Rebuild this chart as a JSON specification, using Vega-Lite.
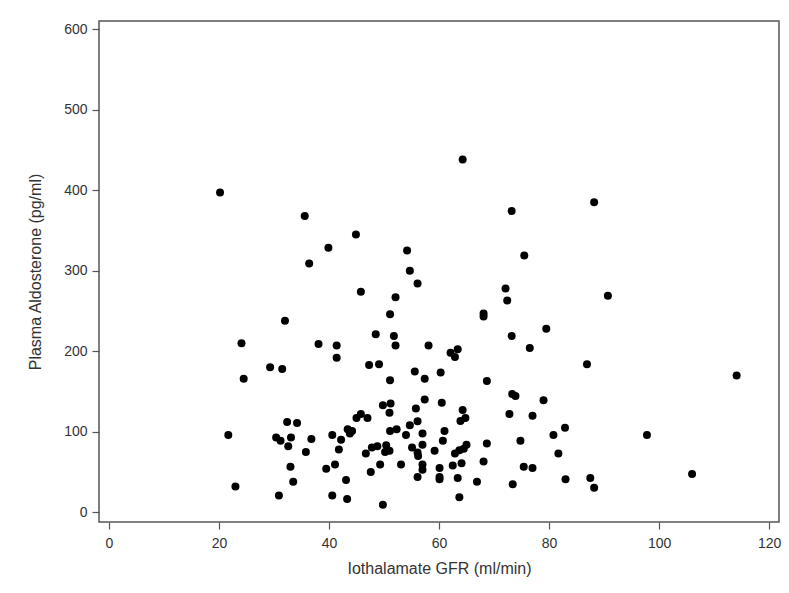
{
  "$schema": "https://vega.github.io/schema/vega-lite/v6.json",
  "width": 680,
  "height": 501,
  "autosize": {"type": "none"},
  "padding": {"left": 99, "top": 21, "right": 10, "bottom": 71},
  "background": "white",
  "config": {
    "view": {"stroke": "#555555", "strokeWidth": 1.5},
    "font": "Liberation Sans",
    "axis": {
      "domain": false,
      "grid": false,
      "tickColor": "#555555",
      "tickWidth": 1.2,
      "tickSize": 7,
      "labelFont": "Liberation Sans",
      "labelFontSize": 14,
      "labelColor": "#333333",
      "titleFont": "Liberation Sans",
      "titleFontSize": 16,
      "titleFontWeight": "normal",
      "titleColor": "#333333"
    }
  },
  "data": {
    "values": [
      {"gfr": 20.2, "aldo": 397}, {"gfr": 35.6, "aldo": 368}, {"gfr": 39.9, "aldo": 328.5}, {"gfr": 36.4, "aldo": 309},
      {"gfr": 32.0, "aldo": 238}, {"gfr": 24.1, "aldo": 210}, {"gfr": 38.1, "aldo": 209}, {"gfr": 41.4, "aldo": 207},
      {"gfr": 41.4, "aldo": 192}, {"gfr": 29.3, "aldo": 180}, {"gfr": 31.5, "aldo": 178}, {"gfr": 24.5, "aldo": 166},
      {"gfr": 32.4, "aldo": 112}, {"gfr": 34.2, "aldo": 111}, {"gfr": 21.7, "aldo": 96}, {"gfr": 30.4, "aldo": 93},
      {"gfr": 31.2, "aldo": 89}, {"gfr": 33.1, "aldo": 93}, {"gfr": 32.6, "aldo": 82}, {"gfr": 36.8, "aldo": 91},
      {"gfr": 35.8, "aldo": 75}, {"gfr": 40.6, "aldo": 96}, {"gfr": 42.2, "aldo": 90}, {"gfr": 41.8, "aldo": 78},
      {"gfr": 41.1, "aldo": 59.5}, {"gfr": 39.5, "aldo": 54}, {"gfr": 33.0, "aldo": 56.5}, {"gfr": 33.5, "aldo": 38},
      {"gfr": 23.0, "aldo": 32}, {"gfr": 30.9, "aldo": 21}, {"gfr": 40.6, "aldo": 21},
      {"gfr": 64.3, "aldo": 438}, {"gfr": 73.2, "aldo": 374}, {"gfr": 44.9, "aldo": 345}, {"gfr": 54.2, "aldo": 325},
      {"gfr": 75.5, "aldo": 319}, {"gfr": 54.7, "aldo": 300}, {"gfr": 56.1, "aldo": 284}, {"gfr": 45.8, "aldo": 274},
      {"gfr": 52.1, "aldo": 267}, {"gfr": 51.1, "aldo": 246}, {"gfr": 72.1, "aldo": 278}, {"gfr": 72.4, "aldo": 263},
      {"gfr": 68.1, "aldo": 247}, {"gfr": 68.1, "aldo": 243}, {"gfr": 79.5, "aldo": 228}, {"gfr": 48.5, "aldo": 221},
      {"gfr": 51.8, "aldo": 219}, {"gfr": 73.2, "aldo": 219},
      {"gfr": 52.1, "aldo": 207}, {"gfr": 58.1, "aldo": 207}, {"gfr": 62.1, "aldo": 198}, {"gfr": 63.4, "aldo": 202.5},
      {"gfr": 62.9, "aldo": 193}, {"gfr": 76.5, "aldo": 204}, {"gfr": 47.3, "aldo": 183}, {"gfr": 49.1, "aldo": 184},
      {"gfr": 55.6, "aldo": 175}, {"gfr": 60.3, "aldo": 173.5}, {"gfr": 51.1, "aldo": 164}, {"gfr": 57.4, "aldo": 166},
      {"gfr": 68.7, "aldo": 163}, {"gfr": 57.4, "aldo": 140}, {"gfr": 60.5, "aldo": 136}, {"gfr": 49.8, "aldo": 133},
      {"gfr": 51.2, "aldo": 135}, {"gfr": 51.0, "aldo": 123.5}, {"gfr": 55.8, "aldo": 129}, {"gfr": 56.1, "aldo": 113},
      {"gfr": 54.7, "aldo": 108}, {"gfr": 64.3, "aldo": 127}, {"gfr": 64.8, "aldo": 117}, {"gfr": 63.9, "aldo": 113.5},
      {"gfr": 73.3, "aldo": 147}, {"gfr": 73.9, "aldo": 144.5}, {"gfr": 79.0, "aldo": 139}, {"gfr": 72.8, "aldo": 122},
      {"gfr": 77.0, "aldo": 120}, {"gfr": 45.0, "aldo": 117}, {"gfr": 45.8, "aldo": 122}, {"gfr": 47.0, "aldo": 117},
      {"gfr": 43.4, "aldo": 103}, {"gfr": 44.2, "aldo": 101}, {"gfr": 43.8, "aldo": 98}, {"gfr": 43.1, "aldo": 40},
      {"gfr": 43.3, "aldo": 16.5}, {"gfr": 49.8, "aldo": 9.5}, {"gfr": 51.1, "aldo": 101}, {"gfr": 52.3, "aldo": 103},
      {"gfr": 54.0, "aldo": 96}, {"gfr": 57.0, "aldo": 98}, {"gfr": 57.0, "aldo": 84}, {"gfr": 55.1, "aldo": 80.6},
      {"gfr": 56.1, "aldo": 74.4}, {"gfr": 56.2, "aldo": 70}, {"gfr": 59.2, "aldo": 76.4}, {"gfr": 61.0, "aldo": 101},
      {"gfr": 60.7, "aldo": 89}, {"gfr": 46.7, "aldo": 73}, {"gfr": 47.8, "aldo": 80.6}, {"gfr": 48.8, "aldo": 82},
      {"gfr": 50.4, "aldo": 83.4}, {"gfr": 50.2, "aldo": 75}, {"gfr": 51.0, "aldo": 76.4}, {"gfr": 49.3, "aldo": 59.5},
      {"gfr": 47.6, "aldo": 50}, {"gfr": 53.1, "aldo": 59.5}, {"gfr": 57.0, "aldo": 59.5}, {"gfr": 57.0, "aldo": 53},
      {"gfr": 56.1, "aldo": 44}, {"gfr": 60.1, "aldo": 55}, {"gfr": 60.1, "aldo": 44}, {"gfr": 60.1, "aldo": 41},
      {"gfr": 62.5, "aldo": 58}, {"gfr": 64.1, "aldo": 61}, {"gfr": 63.4, "aldo": 42.5}, {"gfr": 63.7, "aldo": 18.6},
      {"gfr": 62.9, "aldo": 73}, {"gfr": 63.7, "aldo": 77}, {"gfr": 64.5, "aldo": 79}, {"gfr": 65.0, "aldo": 84},
      {"gfr": 68.7, "aldo": 85.5}, {"gfr": 68.1, "aldo": 63}, {"gfr": 66.9, "aldo": 38}, {"gfr": 74.8, "aldo": 89},
      {"gfr": 73.4, "aldo": 35}, {"gfr": 75.4, "aldo": 56.5}, {"gfr": 77.0, "aldo": 55}, {"gfr": 80.8, "aldo": 96},
      {"gfr": 82.9, "aldo": 105}, {"gfr": 81.7, "aldo": 73}, {"gfr": 83.0, "aldo": 41},
      {"gfr": 88.2, "aldo": 385}, {"gfr": 90.7, "aldo": 269}, {"gfr": 86.9, "aldo": 184}, {"gfr": 114.1, "aldo": 170},
      {"gfr": 97.8, "aldo": 96}, {"gfr": 87.5, "aldo": 42.5}, {"gfr": 88.2, "aldo": 30.5}, {"gfr": 106.0, "aldo": 47.5}
    ]
  },
  "mark": {"type": "point", "filled": true, "color": "black", "opacity": 1, "size": 64, "shape": "circle"},
  "encoding": {
    "x": {
      "field": "gfr",
      "type": "quantitative",
      "title": "Iothalamate GFR (ml/min)",
      "scale": {"domain": [-1.8, 121.8], "nice": false, "zero": false},
      "axis": {"values": [0, 20, 40, 60, 80, 100, 120], "labelPadding": 7, "titlePadding": 10}
    },
    "y": {
      "field": "aldo",
      "type": "quantitative",
      "title": "Plasma Aldosterone (pg/ml)",
      "scale": {"domain": [-12, 610], "nice": false, "zero": false},
      "axis": {"values": [0, 100, 200, 300, 400, 500, 600], "labelPadding": 5, "titlePadding": 20}
    }
  }
}
